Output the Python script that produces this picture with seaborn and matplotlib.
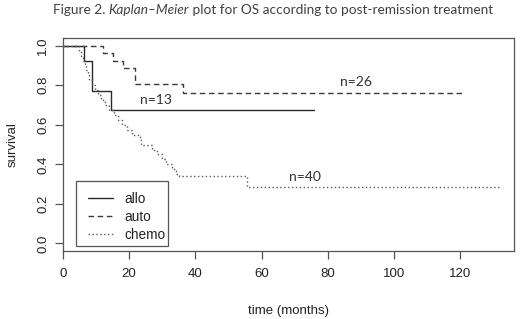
import numpy as np
import pandas as pd
import matplotlib
matplotlib.use("Agg")
import matplotlib.pyplot as plt
import seaborn as sns
from matplotlib.patches import Rectangle
from matplotlib.lines import Line2D

# ---- data ----
allo_t = [0, 6.3, 8.7, 14.4, 76.0]
allo_s = [1.0, 0.923, 0.769, 0.673, 0.673]
auto_t = [0, 12.2, 15.2, 18.2, 21.8, 36.2, 120.8]
auto_s = [1.0, 0.962, 0.923, 0.885, 0.808, 0.762, 0.762]
chemo_t = [0, 4.8, 5.4, 6.0, 6.5, 7.0, 7.5, 8.0, 8.8, 9.6, 10.6, 11.6, 12.8, 14.0,
           15.3, 16.5, 17.8, 19.2, 20.8, 23.3, 23.6, 26.8, 28.3, 30.0, 31.2, 32.8,
           34.2, 35.0, 55.5, 132.5]
chemo_s = [1.0, 0.975, 0.95, 0.925, 0.90, 0.875, 0.85, 0.825, 0.80, 0.775, 0.75, 0.725,
           0.70, 0.675, 0.65, 0.625, 0.60, 0.575, 0.55, 0.525, 0.50, 0.475, 0.45, 0.425,
           0.40, 0.375, 0.35, 0.343, 0.288, 0.288]
groups = ["allo", "auto", "chemo"]
n_labels = ["n=13", "n=26", "n=40"]
n_label_x = [28.2, 88.6, 73.2]
n_label_y = [0.723, 0.818, 0.338]
xticks = [0, 20, 40, 60, 80, 100, 120]
yticks = [0.0, 0.2, 0.4, 0.6, 0.8, 1.0]

df = pd.concat([
    pd.DataFrame({"time": allo_t, "survival": allo_s, "group": "allo"}),
    pd.DataFrame({"time": auto_t, "survival": auto_s, "group": "auto"}),
    pd.DataFrame({"time": chemo_t, "survival": chemo_s, "group": "chemo"}),
], ignore_index=True)

sns.set_style("ticks")
plt.rcParams["font.family"] = ["Liberation Sans", "DejaVu Sans"]

W, H = 520, 319
fig = plt.figure(figsize=(W / 100, H / 100), dpi=100)
box_l, box_r, box_t, box_b = 63, 514, 37.8, 251.4
ax = fig.add_axes([box_l / W, 1 - box_b / H, (box_r - box_l) / W, (box_b - box_t) / H])

palette = {"allo": "#2a2a2a", "auto": "#3a3a3a", "chemo": "#5a5a5a"}
dashes = {"allo": "", "auto": (4, 2.6), "chemo": (1, 1.8)}
sns.lineplot(data=df, x="time", y="survival", hue="group", style="group",
             palette=palette, dashes=dashes, drawstyle="steps-post",
             estimator=None, sort=False, legend=False, linewidth=1.0, ax=ax)

ax.set_xlim(0, 136.3)
ax.set_ylim(-0.04, 1.04)
ax.set_xticks(xticks)
ax.set_xticklabels([str(t) for t in xticks])
ax.set_yticks(yticks)
ax.set_yticklabels([f"{t:.1f}" for t in yticks])
for s in ax.spines.values():
    s.set_visible(True)
    s.set_color("#555555")
    s.set_linewidth(0.9)
ax.tick_params(axis="both", length=6, width=0.9, color="#555555",
               labelsize=9.5, labelcolor="#222222")
ax.tick_params(axis="x", pad=6)
ax.tick_params(axis="y", pad=4, labelrotation=90)
for lab in ax.get_yticklabels():
    lab.set_va("center")

ax.set_xlabel("time (months)", fontsize=9.5, color="#222222", va="center")
ax.xaxis.set_label_coords((288 - box_l) / (box_r - box_l), -(311 - box_b) / (box_b - box_t))
ax.set_ylabel("survival", fontsize=9.5, color="#222222", va="center", ha="center",
              rotation_mode="default")
ax.yaxis.set_label_coords(-(box_l - 13) / (box_r - box_l), 0.5)

for lab, x, y in zip(n_labels, n_label_x, n_label_y):
    ax.text(x, y, lab, ha="center", va="center", fontsize=10, family=["Lato", "DejaVu Sans"],
            color="#333333")

# legend
handles = [Line2D([], [], color=palette[g], lw=1.0,
                  linestyle=("-" if dashes[g] == "" else (0, dashes[g]))) for g in groups]
aw, ah = box_r - box_l, box_b - box_t
leg = ax.legend(handles, groups, loc="upper left",
                bbox_to_anchor=((88 - box_l) / aw, (box_b - 192) / ah),
                frameon=False, handlelength=1.8, handletextpad=0.85, labelspacing=0.3,
                borderpad=0, borderaxespad=0, prop={"family": "Liberation Sans", "size": 9.8})
for t in leg.get_texts():
    t.set_color("#222222")
ax.add_patch(Rectangle(((75.7 - box_l) / aw, (box_b - 245.7) / ah), 92 / aw, 64.7 / ah,
                       transform=ax.transAxes, fill=False, ec="#555555", lw=0.9, zorder=5))

# title in three pieces (italic middle)
parts = [("Figure 2. ", "normal"), ("Kaplan\u2013Meier", "italic"),
         (" plot for OS according to post-remission treatment", "normal")]
fs = 9.0
renderer = fig.canvas.get_renderer()
def measure(size):
    ws = []
    for txt, st in parts:
        t = fig.text(0, 0, txt, fontsize=size, style=st, family=["Lato", "DejaVu Sans"])
        ws.append(t.get_window_extent(renderer).width)
        t.remove()
    return ws
ws = measure(fs)
fs = fs * 440 / sum(ws)
ws = measure(fs)
x0 = 273 - sum(ws) / 2
for (txt, st), w in zip(parts, ws):
    fig.text(x0 / W, 1 - 10 / H, txt, fontsize=fs, style=st, family=["Lato", "DejaVu Sans"],
             color="#404040", ha="left", va="center")
    x0 += w

fig.savefig("out.png", dpi=100)
